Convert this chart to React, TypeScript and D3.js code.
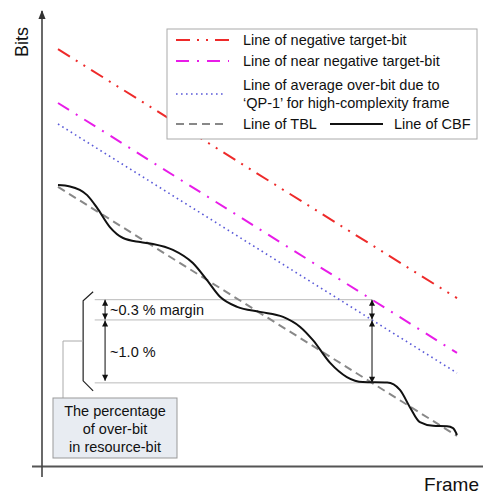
import React from "react";
import * as d3 from "d3";

const W = 483;
const H = 495;

// frame domain endpoints
const frames = [0, 100];
// straight lines (bits at frame 0 and frame 100)
const negTarget = [91.4, 36.8];
const nearNegTarget = [79.6, 24.8];
const avgOverBit = [75.0, 20.4];
const tbl = [61.2, 6.6];

// CBF curve
const cbfFrames = [0, 3, 7.3, 9.8, 13, 16.3, 20.6, 23.8, 28.8, 33.8, 37.3, 40.6, 44.9, 50.6, 56.4, 60.7, 63.9, 68.2, 72.4, 76.4, 82.5, 85.7, 88.2, 90.7, 94, 97.5, 99, 100];
const cbfBits = [61.6, 61.3, 59.4, 56.6, 52.4, 50.0, 49.1, 48.7, 47.4, 44.5, 40.8, 37.1, 34.9, 33.8, 32.7, 30.5, 27.6, 22.6, 19.5, 18.4, 18.3, 16.7, 12.9, 9.6, 8.8, 8.7, 8.3, 6.8];

const legendLabels = [
  ["Line of negative target-bit"],
  ["Line of near negative target-bit"],
  ["Line of average over-bit due to", "\u2018QP-1\u2019 for high-complexity frame"],
  ["Line of TBL"],
  ["Line of CBF"],
];

const annotFrame = 78.7;
const leftArrowFrame = 11.8;
const leftLineFrame = 9.2;
const bracketFrame = 6.3;

const FONT = "'Liberation Sans', Arial, sans-serif";

export default function App() {
  const x = d3.scaleLinear().domain([0, 100]).range([58, 457]);
  const y = d3.scaleLinear().domain([0, 100]).range([466, 10]);

  const straight = (v: number[]) =>
    d3.line<number>().x((_, i) => x(frames[i])).y((d) => y(d))(v) as string;

  const cbfPath = d3
    .line<number>()
    .x((_, i) => x(cbfFrames[i]))
    .y((d) => y(d))
    .curve(d3.curveMonotoneX)(cbfBits) as string;

  const valAt = (v: number[], f: number) => v[0] + ((v[1] - v[0]) * (f - frames[0])) / (frames[1] - frames[0]);

  const ax = x(annotFrame);
  const yTop = y(valAt(nearNegTarget, annotFrame));
  const yMid = y(valAt(avgOverBit, annotFrame));
  const yBot = y(valAt(tbl, annotFrame));
  const lx = x(leftLineFrame);
  const arx = x(leftArrowFrame);
  const bx = x(bracketFrame);

  const styles = {
    neg: { stroke: "#ee2a2a", strokeWidth: 2, strokeDasharray: "14 7 2 7 2 7" },
    near: { stroke: "#e81ce8", strokeWidth: 2, strokeDasharray: "13 8 2 8" },
    avg: { stroke: "#5a5ad8", strokeWidth: 1.6, strokeDasharray: "1.6 3.4" },
    tbl: { stroke: "#888", strokeWidth: 2, strokeDasharray: "8 5" },
    cbf: { stroke: "#111", strokeWidth: 2 },
  };

  const lg = { x0: 167, y0: 29, x1: 477, y1: 139 };

  return (
    <svg width={W} height={H} style={{ position: "absolute", left: 0, top: 0 }} fontFamily={FONT}>
      <defs>
        <marker id="ah" viewBox="0 0 10 10" refX="10" refY="5" markerWidth="7" markerHeight="6" markerUnits="userSpaceOnUse" orient="auto-start-reverse">
          <path d="M0,0 L10,5 L0,10 z" fill="#111" />
        </marker>
        <marker id="axh" viewBox="0 0 10 10" refX="9" refY="5" markerWidth="9" markerHeight="9" markerUnits="userSpaceOnUse" orient="auto">
          <path d="M0,1 L10,5 L0,9 z" fill="#333" />
        </marker>
      </defs>
      <rect width={W} height={H} fill="#fff" />

      {/* axes */}
      <line x1={32} y1={466.5} x2={483} y2={466.5} stroke="#555" strokeWidth={2} />
      <line x1={42} y1={477} x2={42} y2={11} stroke="#444" strokeWidth={1.6} markerEnd="url(#axh)" />
      <text x={28} y={42} fontSize={18} textAnchor="middle" transform="rotate(-90 28 42)" fill="#111">Bits</text>
      <text x={479} y={491} fontSize={19} textAnchor="end" fill="#111">Frame</text>

      {/* annotation guide lines */}
      <g stroke="#bbb" strokeWidth={1}>
        <line x1={lx} y1={yTop} x2={ax} y2={yTop} />
        <line x1={lx} y1={yMid} x2={ax} y2={yMid} />
        <line x1={lx} y1={yBot} x2={ax} y2={yBot} />
      </g>

      {/* data lines */}
      <path d={straight(tbl)} fill="none" {...styles.tbl} />
      <path d={straight(avgOverBit)} fill="none" {...styles.avg} />
      <path d={straight(nearNegTarget)} fill="none" {...styles.near} />
      <path d={straight(negTarget)} fill="none" {...styles.neg} />
      <path d={cbfPath} fill="none" {...styles.cbf} />

      {/* arrows */}
      <g stroke="#333" strokeWidth={1.2}>
        <line x1={arx} y1={yTop} x2={arx} y2={yMid - 0.5} markerStart="url(#ah)" markerEnd="url(#ah)" />
        <line x1={arx} y1={yMid + 0.5} x2={arx} y2={yBot - 2} markerStart="url(#ah)" markerEnd="url(#ah)" />
        <line x1={ax} y1={yTop} x2={ax} y2={yMid - 0.5} markerStart="url(#ah)" markerEnd="url(#ah)" />
        <line x1={ax} y1={yMid + 0.5} x2={ax} y2={yBot} markerStart="url(#ah)" markerEnd="url(#ah)" />
      </g>
      <text x={arx + 5} y={(yTop + yMid) / 2 + 5} fontSize={14.5} fill="#111">~0.3 % margin</text>
      <text x={arx + 5} y={yMid + 37} fontSize={14.5} fill="#111">~1.0 %</text>

      {/* bracket */}
      <path d={`M${bx + 10},${yTop - 8} L${bx},${yTop + 1} L${bx},${yBot - 2} L${bx + 10},${yBot + 8}`} fill="none" stroke="#222" strokeWidth={1.2} />
      <path d={`M${bx},341 L63,341 L63,398`} fill="none" stroke="#aaa" strokeWidth={1} />
      <rect x={53} y={398} width={124} height={60} fill="#e8ecf2" stroke="#999" strokeWidth={1} />
      <g fontSize={14.5} fill="#111" textAnchor="middle">
        <text x={115} y={416}>The percentage</text>
        <text x={115} y={434}>of over-bit</text>
        <text x={115} y={452}>in resource-bit</text>
      </g>

      {/* legend */}
      <rect x={lg.x0} y={lg.y0} width={lg.x1 - lg.x0} height={lg.y1 - lg.y0} fill="#fff" stroke="#aaa" strokeWidth={1} />
      <line x1={176} y1={40} x2={229} y2={40} fill="none" {...styles.neg} />
      <line x1={176} y1={61} x2={229} y2={61} fill="none" {...styles.near} />
      <line x1={176} y1={94} x2={226} y2={94} fill="none" {...styles.avg} />
      <line x1={176} y1={124} x2={226} y2={124} fill="none" {...styles.tbl} />
      <line x1={330} y1={124} x2={383} y2={124} fill="none" {...styles.cbf} />
      <g fontSize={14.5} fill="#111">
        <text x={243} y={45}>{legendLabels[0][0]}</text>
        <text x={243} y={66}>{legendLabels[1][0]}</text>
        <text x={243} y={90}>{legendLabels[2][0]}</text>
        <text x={243} y={108}>{legendLabels[2][1]}</text>
        <text x={243} y={129}>{legendLabels[3][0]}</text>
        <text x={394} y={129}>{legendLabels[4][0]}</text>
      </g>
    </svg>
  );
}
